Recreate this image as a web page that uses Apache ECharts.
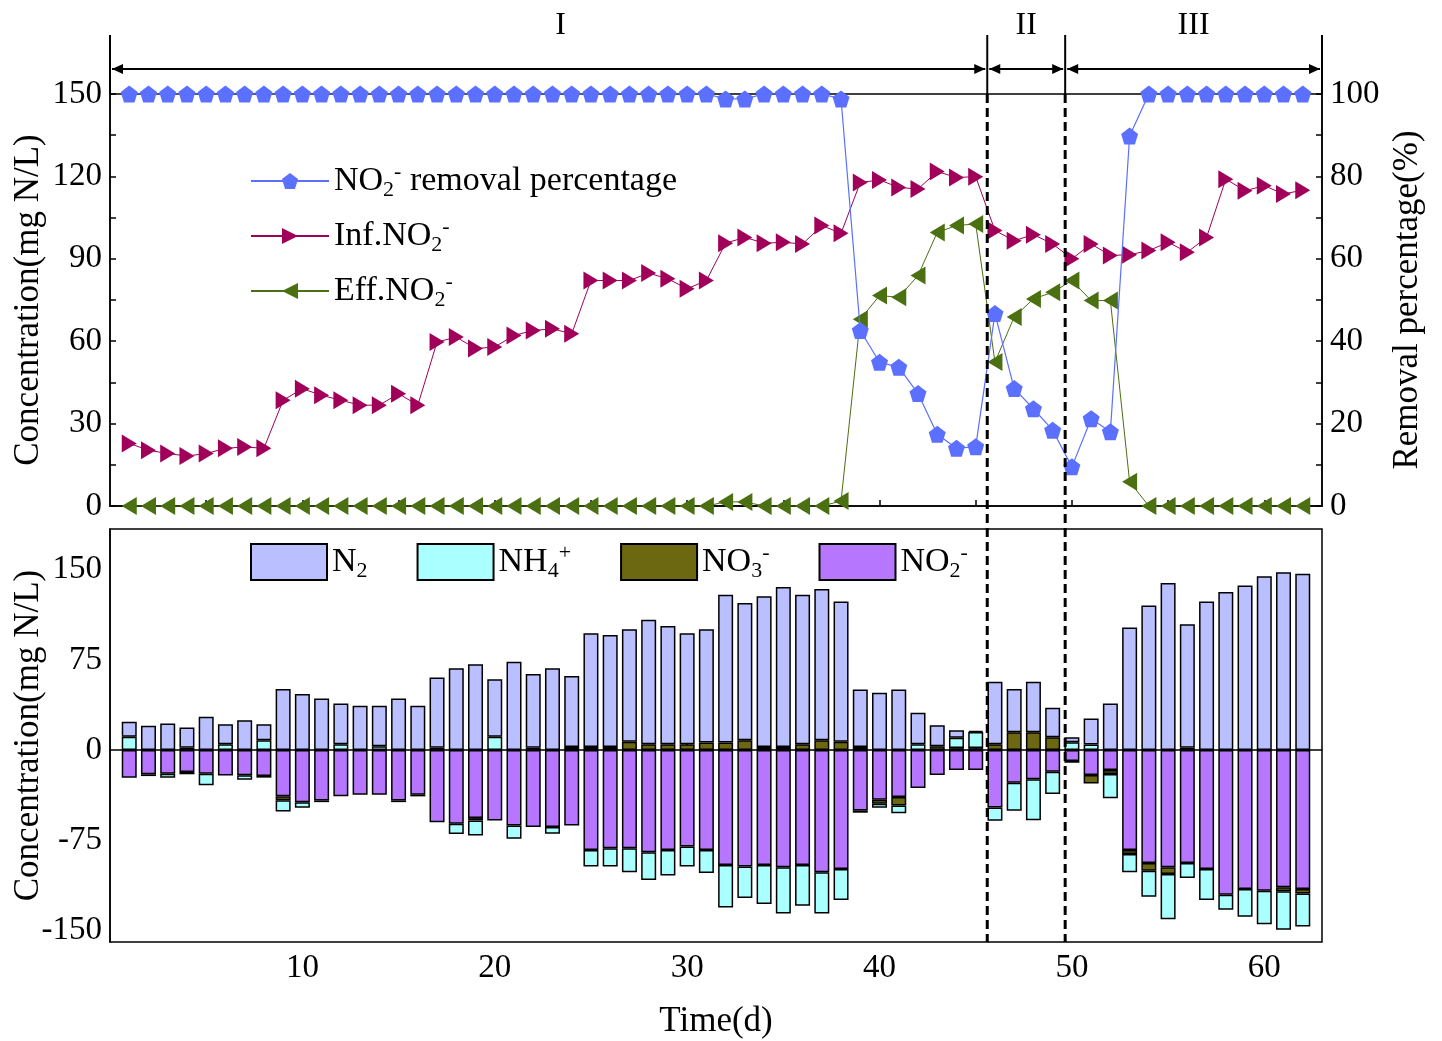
<!DOCTYPE html>
<html><head><meta charset="utf-8">
<script src="https://cdn.jsdelivr.net/npm/echarts@6/dist/echarts.min.js"></script>
<style>html,body{margin:0;padding:0;background:#fff}#c{width:1442px;height:1041px}</style>
</head><body><div id="c"></div>
<script>
// ---------------- data ----------------
const days = [1,2,3,4,5,6,7,8,9,10,11,12,13,14,15,16,17,18,19,20,21,22,23,24,25,26,27,28,29,30,31,32,33,34,35,36,37,38,39,40,41,42,43,44,45,46,47,48,49,50,51,52,53,54,55,56,57,58,59,60,61,62];

const removalPct = [100,100,100,100,100,100,100,100,100,100,100,100,100,100,100,100,100,100,100,100,100,100,100,100,100,100,100,100,100,100,100,98.8,98.8,100,100,100,100,98.8,
  42.6,34.9,33.7,27.3,17.4,14.0,14.4,46.7,28.5,23.6,18.4,9.5,21.2,18.0,89.8,100,100,100,100,100,100,100,100,100];

const infNO2 = [22.8,20.3,19.1,18.2,19.1,21.0,21.5,21.0,38.5,42.7,40.3,38.5,36.7,36.7,40.9,36.7,59.7,61.5,57.3,57.9,62.1,63.9,64.5,62.7,82.1,82.1,82.1,84.8,82.7,79.1,82.1,95.7,97.8,95.7,96.0,95.4,102.1,99.3,
  117.8,118.7,116.0,115.4,121.8,119.6,119.9,100.3,96.6,98.8,95.4,90.0,95.4,91.2,91.5,93.0,96.0,92.4,97.8,119.0,114.8,116.6,113.6,115.0];

const effNO2 = [0,0,0,0,0,0,0,0,0,0,0,0,0,0,0,0,0,0,0,0,0,0,0,0,0,0,0,0,0,0,0,1.5,1.5,0,0,0,0,1.8,
  68.0,76.6,76.0,83.9,99.6,102.1,102.7,52.4,68.8,75.4,77.8,82.1,74.8,74.8,8.8,0,0,0,0,0,0,0,0,0];

// bottom panel (positive side)
const barN2 = [12.5,20.1,22.0,17.0,27.6,16.7,24.8,13.4,50.7,46.5,42.9,34.0,36.8,33.8,42.9,36.8,58.7,68.0,71.3,47.9,73.5,61.5,68.0,59.1,94.7,93.3,93.9,103.7,98.6,92.5,94.5,123.1,114.2,125.4,133.2,124.5,125.9,117.0,
  47.9,47.6,50.4,26.2,17.6,6.3,1.0,52.1,35.9,42.0,24.5,4.2,21.7,38.7,101.9,120.3,139.0,103.0,123.7,131.5,137.0,144.6,147.9,146.8];
const barNH4Pos = [10.9,0,0,0,0,4.7,0,8.0,0,0, 0,4.7,0,3.0,0,0,0,0,0,10.9, 0,0,0,2.5,0,0,0,0,0,0, 0,0,0,0,0,0,0,0,2.5,0,
  0,4.7,0,8.6,13.4,0,0,0,0,6.4, 4.5,0,0,0,0,0,0,0,0,0, 0,0];
const barNO3Pos = [0,0,0,1.7,0,0,0,0,0,0, 0,0,0,0,0,0,1.7,0,0,0, 0,1.7,0,0,2.5,2.5,6.7,4.7,4.7,4.7, 6.1,6.1,8.1,2.5,2.5,4.7,8.1,6.7,0,0,
  0,0,3.0,1.5,1.5,4.7,14.8,14.8,10.6,0, 0,0,0,0,0,1.7,0,0,0,0, 0,0];
// bottom panel (negative side)
const barNO2Neg = [-23.1,-20.3,-19.8,-18.4,-19.8,-21.4,-21.2,-21.7,-38.7,-43.5,-42.1,-38.7,-37.3,-37.3,-42.1,-37.3,-60.2,-61.6,-56.8,-58.8,-63.0,-64.3,-64.3,-63.0,-83.3,-81.9,-81.9,-85.2,-83.3,-80.5,-83.3,-95.8,-97.2,-95.8,-97.8,-95.8,-102.0,-99.2,
  -50.4,-41.5,-39.3,-31.8,-20.9,-16.7,-16.7,-47.9,-27.3,-24.5,-18.1,-9.2,-20.9,-16.7,-83.3,-94.2,-97.8,-94.2,-99.2,-120.6,-115.9,-117.3,-114.5,-115.9];
const barNO3Neg = [0,-1.5,0,-1.9,0,0,0,-1.4,-3.3,0, -1.4,0,0,0,-1.4,-1.4,0,0,-1.9,0, 0,0,0,0,0,0,0,0,0,0, 0,0,0,0,0,0,0,0,-1.9,-3.3,
  -7.0,0,0,0,0,0,0,0,0,-1.5, -7.0,-3.3,-3.3,-6.4,-5.6,0,0,0,0,0, -3.3,-3.6];
const barNH4Neg = [0,0,-3.3,0,-9.7,0,-3.6,0,-9.2,-4.7, 0,0,0,0,0,0,0,-8.4,-12.5,0, -11.1,0,-5.6,0,-13.9,-15.3,-20.0,-23.1,-21.4,-16.7, -19.2,-35.4,-26.2,-32.6,-38.4,-34.0,-34.3,-25.9,0,-3.3,
  -6.4,0,0,0,0,-11.1,-23.4,-34.0,-18.7,0, 0,-20.3,-15.3,-21.7,-37.6,-12.5,-25.9,-12.5,-23.1,-27.9, -32.0,-27.6];

// axes / annotation values
const xMin = 0, xMax = 63;
const xTickValues = [5,10,15,20,25,30,35,40,45,50,55,60];
const xLabelValues = [10,20,30,40,50,60];
const topLeftTicks = [0,15,30,45,60,75,90,105,120,135,150];
const topLeftLabels = [0,30,60,90,120,150];
const topRightTicks = [0,10,20,30,40,50,60,70,80,90,100];
const topRightLabels = [0,20,40,60,80,100];
const botTicks = [-150,-112.5,-75,-37.5,0,37.5,75,112.5,150];
const botLabels = [-150,-75,0,75,150];
const phaseBounds = [0, 45.6, 49.65, 63];
const phaseLabels = ['I','II','III'];

// ---------------- styling ----------------
const FONT = '"Liberation Serif", "Times New Roman", serif';
const C_BLUE = '#5b70ff', C_RED = '#a0005a', C_GREEN = '#4a7012';
const C_N2 = '#b9bfff', C_NH4 = '#aaffff', C_NO3 = '#6c6711', C_NO2 = '#b676fd';
const pentagon = 'path://M50,0 L100,36 L81,95 L19,95 L0,36 Z';
const triRight = 'path://M0,0 L100,50 L0,100 Z';
const triLeft = 'path://M100,0 L0,50 L100,100 Z';

// bottom panel uses a category axis spanning xMin..xMax so bars stack by index
const bottomCats = [xMin].concat(days, [xMax]);
const pairs = arr => days.map((d, i) => [d, arr[i]]);
const barData = arr => [null].concat(arr.map(v => (v === 0 ? null : v)), [null]);

const richStyle = {
  sub: {fontSize: 22, fontFamily: FONT, color: '#000', verticalAlign: 'bottom', lineHeight: 22},
  sup: {fontSize: 22, fontFamily: FONT, color: '#000', verticalAlign: 'top', lineHeight: 22}
};
const legendNames = {
  'NO2- removal percentage': 'NO{sub|2}{sup|-} removal percentage',
  'Inf.NO2-': 'Inf.NO{sub|2}{sup|-}',
  'Eff.NO2-': 'Eff.NO{sub|2}{sup|-}',
  'N2': 'N{sub|2}',
  'NH4+': 'NH{sub|4}{sup|+}',
  'NO3-': 'NO{sub|3}{sup|-}',
  'NO2-': 'NO{sub|2}{sup|-}'
};

const axisLineStyle = {color: '#000', width: 1.5};
const labelStyle = {color: '#000', fontFamily: FONT, fontSize: 33};
const nameStyle = {color: '#000', fontFamily: FONT, fontSize: 35};

function barSeries(name, arr, color) {
  return {
    type: 'bar', name: name, xAxisIndex: 1, yAxisIndex: 2, stack: 'n',
    barWidth: 15, data: barData(arr),
    itemStyle: {color: color, borderColor: '#000', borderWidth: 1.5},
    emphasis: {disabled: true}
  };
}

const option = {
  animation: false,
  backgroundColor: '#fff',
  grid: [
    {left: 110, top: 94, width: 1212, height: 412, show: true, borderColor: '#000', borderWidth: 1.5,
      backgroundColor: 'transparent', containLabel: false, outerBoundsMode: 'none'},
    {left: 110, top: 529, width: 1212, height: 413, show: true, borderColor: '#000', borderWidth: 1.5,
      backgroundColor: 'transparent', containLabel: false, outerBoundsMode: 'none'}
  ],
  legend: [
    {
      data: ['NO2- removal percentage', 'Inf.NO2-', 'Eff.NO2-'],
      orient: 'vertical', left: 250, top: 161, padding: 0, itemWidth: 78, itemHeight: 20, itemGap: 15,
      formatter: n => legendNames[n],
      textStyle: {color: '#000', fontFamily: FONT, fontSize: 34, lineHeight: 40, rich: richStyle}
    },
    {
      data: ['N2', 'NH4+', 'NO3-', 'NO2-'],
      orient: 'horizontal', left: 250, top: 542, padding: 0, itemWidth: 76, itemHeight: 36, itemGap: 49,
      icon: 'rect',
      formatter: n => legendNames[n],
      textStyle: {color: '#000', fontFamily: FONT, fontSize: 34, lineHeight: 40, rich: richStyle}
    }
  ],
  xAxis: [
    {gridIndex: 0, type: 'value', min: xMin, max: xMax,
      axisLine: {lineStyle: axisLineStyle}, splitLine: {show: false},
      axisTick: {inside: true, length: 6, lineStyle: axisLineStyle, customValues: xTickValues},
      axisLabel: {show: false}},
    {gridIndex: 1, type: 'category', data: bottomCats, boundaryGap: false,
      name: 'Time(d)', nameLocation: 'middle', nameGap: 62, nameTextStyle: nameStyle,
      axisLine: {lineStyle: axisLineStyle}, splitLine: {show: false},
      axisTick: {inside: true, length: 6, lineStyle: axisLineStyle,
        interval: (i, v) => xTickValues.indexOf(Number(v)) >= 0},
      axisLabel: Object.assign({margin: 10,
        interval: (i, v) => xLabelValues.indexOf(Number(v)) >= 0}, labelStyle)}
  ],
  yAxis: [
    {gridIndex: 0, type: 'value', min: 0, max: 150, position: 'left',
      name: 'Concentration(mg N/L)', nameLocation: 'middle', nameGap: 64, nameMoveOverlap: false, nameRotate: 90, nameTextStyle: nameStyle,
      axisLine: {show: true, lineStyle: axisLineStyle}, splitLine: {show: false},
      axisTick: {inside: true, length: 6, lineStyle: axisLineStyle, customValues: topLeftTicks},
      axisLabel: Object.assign({margin: 8, customValues: topLeftLabels}, labelStyle)},
    {gridIndex: 0, type: 'value', min: 0, max: 100, position: 'right',
      name: 'Removal percentage(%)', nameLocation: 'middle', nameGap: 68, nameRotate: 90, nameTextStyle: nameStyle,
      axisLine: {show: true, lineStyle: axisLineStyle}, splitLine: {show: false},
      axisTick: {inside: true, length: 6, lineStyle: axisLineStyle, customValues: topRightTicks},
      axisLabel: Object.assign({margin: 8, customValues: topRightLabels}, labelStyle)},
    {gridIndex: 1, type: 'value', min: -160, max: 184, position: 'left',
      name: 'Concentration(mg N/L)', nameLocation: 'middle', nameGap: 64, nameMoveOverlap: false, nameRotate: 90, nameTextStyle: nameStyle,
      axisLine: {show: true, lineStyle: axisLineStyle}, splitLine: {show: false},
      axisTick: {inside: true, length: 6, lineStyle: axisLineStyle, customValues: botTicks},
      axisLabel: Object.assign({margin: 8, customValues: botLabels}, labelStyle)}
  ],
  series: [
    barSeries('NO3-', barNO3Pos, C_NO3),
    barSeries('NH4+', barNH4Pos, C_NH4),
    barSeries('N2', barN2, C_N2),
    barSeries('NO2-', barNO2Neg, C_NO2),
    barSeries('NO3-', barNO3Neg, C_NO3),
    barSeries('NH4+', barNH4Neg, C_NH4),
    {type: 'line', name: 'Inf.NO2-', xAxisIndex: 0, yAxisIndex: 0, data: pairs(infNO2),
      symbol: triRight, symbolSize: [15, 18], clip: false,
      lineStyle: {color: C_RED, width: 1}, itemStyle: {color: C_RED}, emphasis: {disabled: true}, z: 3},
    {type: 'line', name: 'Eff.NO2-', xAxisIndex: 0, yAxisIndex: 0, data: pairs(effNO2),
      symbol: triLeft, symbolSize: [15, 18], clip: false,
      lineStyle: {color: C_GREEN, width: 1}, itemStyle: {color: C_GREEN}, emphasis: {disabled: true}, z: 3},
    {type: 'line', name: 'NO2- removal percentage', xAxisIndex: 0, yAxisIndex: 1, data: pairs(removalPct),
      symbol: pentagon, symbolSize: 17, clip: false,
      lineStyle: {color: C_BLUE, width: 1.2}, itemStyle: {color: C_BLUE}, emphasis: {disabled: true}, z: 4}
  ]
};

const chart = echarts.init(document.getElementById('c'));
chart.setOption(option);

// phase annotations
const px = v => chart.convertToPixel({xAxisIndex: 0}, v);
const topY = chart.convertToPixel({yAxisIndex: 0}, 150);
const botY = chart.convertToPixel({yAxisIndex: 2}, -160);
const gfx = [];
const arrowY = 69, bracketTop = 35, labelY = 26;
[phaseBounds[1], phaseBounds[2]].forEach(d => {
  gfx.push({type: 'line', z: 100, shape: {x1: px(d), y1: topY, x2: px(d), y2: botY},
    style: {stroke: '#000', lineWidth: 3, lineDash: [9, 5]}});
});
phaseBounds.forEach(d => {
  gfx.push({type: 'line', z: 100, shape: {x1: px(d), y1: bracketTop, x2: px(d), y2: topY},
    style: {stroke: '#000', lineWidth: 2}});
});
for (let i = 0; i < phaseLabels.length; i++) {
  const xa = px(phaseBounds[i]) + 2, xb = px(phaseBounds[i + 1]) - 2;
  gfx.push({type: 'line', z: 100, shape: {x1: xa, y1: arrowY, x2: xb, y2: arrowY}, style: {stroke: '#000', lineWidth: 2}});
  gfx.push({type: 'polygon', z: 100, shape: {points: [[xa, arrowY], [xa + 11, arrowY - 5], [xa + 11, arrowY + 5]]}, style: {fill: '#000'}});
  gfx.push({type: 'polygon', z: 100, shape: {points: [[xb, arrowY], [xb - 11, arrowY - 5], [xb - 11, arrowY + 5]]}, style: {fill: '#000'}});
  gfx.push({type: 'text', z: 100, x: (xa + xb) / 2 + (i === 0 ? 12 : 0), y: labelY,
    style: {text: phaseLabels[i], fill: '#000', font: '32px ' + FONT, align: 'center', verticalAlign: 'middle'}});
}
chart.setOption({graphic: gfx});
</script>
</body></html>
